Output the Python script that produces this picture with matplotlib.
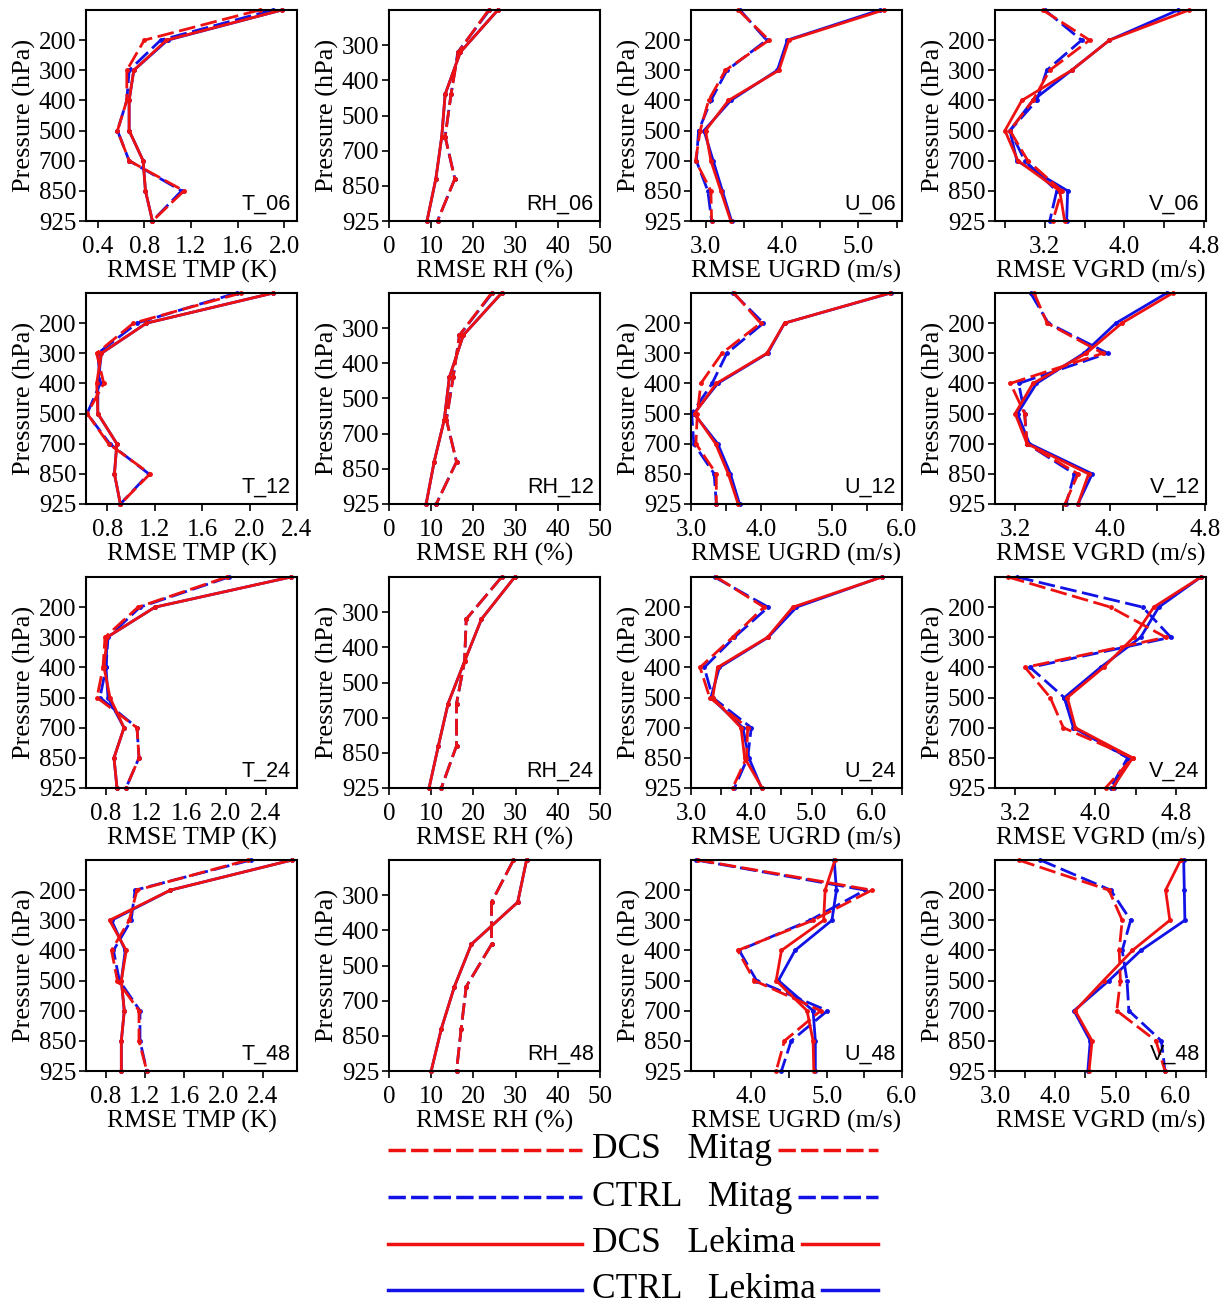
import numpy as np
import matplotlib
matplotlib.use('Agg')
import matplotlib.pyplot as plt
from matplotlib.ticker import MultipleLocator

plt.rcParams['font.family'] = ['Liberation Serif', 'DejaVu Serif']

levels = ['100', '200', '300', '400', '500', '700', '850', '925']
rh_tick_labels = ['300', '400', '500', '700', '850', '925']

# RMSE profiles, top level first: CTRL/DCS x Mitag/Lekima
T_06 = {'CTRL Mitag': [1.90, 0.94, 0.67, 0.65, 0.57, 0.67, 1.12, 0.87],
        'CTRL Lekima': [1.98, 1.00, 0.71, 0.67, 0.67, 0.79, 0.81, 0.87],
        'DCS Mitag': [1.79, 0.80, 0.65, 0.65, 0.57, 0.67, 1.14, 0.87],
        'DCS Lekima': [1.98, 0.99, 0.71, 0.67, 0.67, 0.79, 0.81, 0.87]}
T_12 = {'CTRL Mitag': [1.89, 1.05, 0.72, 0.74, 0.63, 0.82, 1.15, 0.91],
        'CTRL Lekima': [2.20, 1.13, 0.75, 0.72, 0.72, 0.88, 0.86, 0.91],
        'DCS Mitag': [1.93, 1.02, 0.71, 0.77, 0.63, 0.81, 1.16, 0.91],
        'DCS Lekima': [2.20, 1.13, 0.75, 0.71, 0.72, 0.88, 0.86, 0.91]}
T_24 = {'CTRL Mitag': [2.03, 1.14, 0.82, 0.80, 0.74, 1.11, 1.13, 1.00],
        'CTRL Lekima': [2.65, 1.29, 0.81, 0.80, 0.82, 0.98, 0.88, 0.91],
        'DCS Mitag': [2.01, 1.12, 0.79, 0.77, 0.71, 1.11, 1.13, 1.00],
        'DCS Lekima': [2.65, 1.29, 0.81, 0.78, 0.84, 0.98, 0.88, 0.91]}
T_48 = {'CTRL Mitag': [2.28, 1.10, 1.06, 0.88, 0.94, 1.15, 1.15, 1.22],
        'CTRL Lekima': [2.70, 1.46, 0.86, 1.00, 0.96, 0.99, 0.96, 0.96],
        'DCS Mitag': [2.25, 1.12, 1.04, 0.86, 0.92, 1.14, 1.14, 1.22],
        'DCS Lekima': [2.70, 1.46, 0.84, 1.01, 0.96, 0.99, 0.96, 0.96]}

RH_06 = {'CTRL Mitag': [23.8, 16.3, 14.7, 13.3, 15.6, 11.5],
         'CTRL Lekima': [25.8, 16.9, 13.3, 12.5, 11.1, 9.0],
         'DCS Mitag': [23.6, 16.4, 14.7, 13.3, 15.6, 11.5],
         'DCS Lekima': [25.8, 16.9, 13.3, 12.5, 11.1, 9.0]}
RH_12 = {'CTRL Mitag': [24.5, 16.7, 15.2, 13.6, 16.0, 11.2],
         'CTRL Lekima': [26.7, 17.6, 14.3, 13.1, 10.7, 8.8],
         'DCS Mitag': [24.3, 16.7, 15.2, 13.6, 16.0, 11.2],
         'DCS Lekima': [26.7, 17.6, 14.3, 13.1, 10.7, 8.8]}
RH_24 = {'CTRL Mitag': [26.7, 18.3, 17.9, 16.0, 16.0, 12.4],
         'CTRL Lekima': [29.8, 21.9, 17.9, 14.0, 11.7, 9.5],
         'DCS Mitag': [26.7, 18.3, 17.9, 16.0, 16.0, 12.4],
         'DCS Lekima': [29.8, 21.9, 17.9, 14.0, 11.7, 9.5]}
RH_48 = {'CTRL Mitag': [29.5, 24.3, 24.3, 18.3, 17.1, 16.0],
         'CTRL Lekima': [32.6, 30.5, 19.5, 15.5, 12.4, 10.0],
         'DCS Mitag': [29.5, 24.3, 24.3, 18.3, 17.1, 16.0],
         'DCS Lekima': [32.6, 30.5, 19.5, 15.5, 12.4, 10.0]}

U_06 = {'CTRL Mitag': [3.45, 3.80, 3.28, 3.07, 2.91, 2.88, 3.03, 3.08],
        'CTRL Lekima': [5.28, 4.07, 3.94, 3.33, 2.98, 3.10, 3.22, 3.34],
        'DCS Mitag': [3.43, 3.83, 3.26, 3.04, 2.93, 2.87, 3.07, 3.08],
        'DCS Lekima': [5.33, 4.09, 3.96, 3.30, 3.00, 3.07, 3.20, 3.33]}
U_12 = {'CTRL Mitag': [3.60, 4.03, 3.51, 3.30, 3.01, 3.04, 3.33, 3.36],
        'CTRL Lekima': [5.84, 4.33, 4.09, 3.38, 3.04, 3.38, 3.56, 3.69],
        'DCS Mitag': [3.61, 3.99, 3.44, 3.14, 3.09, 3.07, 3.36, 3.36],
        'DCS Lekima': [5.83, 4.33, 4.08, 3.36, 3.05, 3.35, 3.53, 3.67]}
U_24 = {'CTRL Mitag': [3.39, 4.28, 3.72, 3.22, 3.36, 4.00, 3.94, 3.72],
        'CTRL Lekima': [6.16, 4.75, 4.28, 3.47, 3.33, 3.86, 3.96, 4.17],
        'DCS Mitag': [3.42, 4.21, 3.69, 3.15, 3.31, 3.94, 3.92, 3.69],
        'DCS Lekima': [6.17, 4.69, 4.27, 3.44, 3.36, 3.83, 3.89, 4.18]}
U_48 = {'CTRL Mitag': [3.27, 5.51, 4.78, 3.84, 4.07, 5.01, 4.53, 4.40],
        'CTRL Lekima': [5.10, 5.13, 5.07, 4.58, 4.36, 4.82, 4.85, 4.85],
        'DCS Mitag': [3.29, 5.60, 4.82, 3.82, 4.04, 4.92, 4.44, 4.33],
        'DCS Lekima': [5.11, 4.98, 4.96, 4.40, 4.33, 4.74, 4.82, 4.83]}

V_06 = {'CTRL Mitag': [3.20, 3.57, 3.22, 3.12, 2.85, 3.00, 3.32, 3.25],
        'CTRL Lekima': [4.54, 3.85, 3.47, 3.08, 2.85, 2.92, 3.43, 3.42],
        'DCS Mitag': [3.18, 3.65, 3.25, 3.08, 2.85, 3.03, 3.37, 3.28],
        'DCS Lekima': [4.65, 3.85, 3.47, 2.97, 2.80, 2.93, 3.35, 3.40]}
V_12 = {'CTRL Mitag': [3.33, 3.48, 3.98, 3.23, 3.28, 3.30, 3.70, 3.63],
        'CTRL Lekima': [4.48, 4.05, 3.78, 3.38, 3.22, 3.32, 3.85, 3.73],
        'DCS Mitag': [3.36, 3.47, 3.94, 3.16, 3.28, 3.30, 3.73, 3.62],
        'DCS Lekima': [4.53, 4.10, 3.80, 3.35, 3.20, 3.30, 3.82, 3.73]}
V_24 = {'CTRL Mitag': [3.22, 4.47, 4.75, 3.35, 3.69, 3.79, 4.32, 4.15],
        'CTRL Lekima': [5.05, 4.63, 4.45, 4.05, 3.69, 3.78, 4.33, 4.18],
        'DCS Mitag': [3.13, 4.15, 4.70, 3.30, 3.55, 3.68, 4.37, 4.10],
        'DCS Lekima': [5.05, 4.58, 4.38, 4.08, 3.72, 3.80, 4.37, 4.17]}
V_48 = {'CTRL Mitag': [3.75, 4.92, 5.25, 5.11, 5.19, 5.22, 5.76, 5.82],
        'CTRL Lekima': [6.13, 6.14, 6.15, 5.42, 4.89, 4.31, 4.58, 4.54],
        'DCS Mitag': [3.39, 4.89, 5.11, 5.06, 5.08, 5.02, 5.67, 5.82],
        'DCS Lekima': [6.08, 5.83, 5.90, 5.28, 4.80, 4.33, 4.61, 4.56]}

panels = [
    [('T_06', T_06), ('RH_06', RH_06), ('U_06', U_06), ('V_06', V_06)],
    [('T_12', T_12), ('RH_12', RH_12), ('U_12', U_12), ('V_12', V_12)],
    [('T_24', T_24), ('RH_24', RH_24), ('U_24', U_24), ('V_24', V_24)],
    [('T_48', T_48), ('RH_48', RH_48), ('U_48', U_48), ('V_48', V_48)],
]

xlabels = {'T': 'RMSE TMP (K)', 'RH': 'RMSE RH (%)',
           'U': 'RMSE UGRD (m/s)', 'V': 'RMSE VGRD (m/s)'}

# xlim, major ticks, minor step
xaxis = {
    'T_06': ((0.3, 2.11), [0.4, 0.8, 1.2, 1.6, 2.0], None),
    'T_12': ((0.62, 2.4), [0.8, 1.2, 1.6, 2.0, 2.4], None),
    'T_24': ((0.6, 2.71), [0.8, 1.2, 1.6, 2.0, 2.4], None),
    'T_48': ((0.6, 2.75), [0.8, 1.2, 1.6, 2.0, 2.4], None),
    'U_06': ((2.81, 5.57), [3.0, 4.0, 5.0], 0.5),
    'U_12': ((3.0, 6.0), [3.0, 4.0, 5.0, 6.0], 0.5),
    'U_24': ((3.0, 6.5), [3.0, 4.0, 5.0, 6.0], 0.5),
    'U_48': ((3.2, 6.0), [4.0, 5.0, 6.0], 0.5),
    'V_06': ((2.7, 4.82), [3.2, 4.0, 4.8], 0.4),
    'V_12': ((3.03, 4.81), [3.2, 4.0, 4.8], 0.4),
    'V_24': ((3.0, 5.1), [3.2, 4.0, 4.8], 0.4),
    'V_48': ((3.0, 6.5), [3.0, 4.0, 5.0, 6.0], 0.5),
}

styles = {'CTRL Mitag': ('#1212e6', (0, (6, 2))),
          'CTRL Lekima': ('#1212e6', '-'),
          'DCS Mitag': ('#ee1111', (0, (6, 2))),
          'DCS Lekima': ('#ee1111', '-')}

W, H = 1232, 1306
fig = plt.figure(figsize=(W / 100, H / 100), dpi=100)

col_left = [86, 389, 691, 995]
row_top = [10, 293, 577, 860]
aw, ah = 211, 211

for r, row in enumerate(panels):
    for c, (name, data) in enumerate(row):
        ax = fig.add_axes([col_left[c] / W, 1 - (row_top[r] + ah) / H, aw / W, ah / H])
        var = name.split('_')[0]
        if var == 'RH':
            n = len(data['DCS Lekima'])
            y = np.linspace(0, len(rh_tick_labels), n)
            ax.set_ylim(len(rh_tick_labels), 0)
            ax.set_yticks(np.arange(1, len(rh_tick_labels) + 1))
            ax.set_yticklabels(rh_tick_labels)
            ax.set_xlim(0, 50)
            ax.set_xticks([0, 10, 20, 30, 40, 50])
        else:
            y = np.arange(len(levels))
            ax.set_ylim(len(levels) - 1, 0)
            ax.set_yticks(y[1:])
            ax.set_yticklabels(levels[1:])
            lim, major, minor = xaxis[name]
            ax.set_xlim(*lim)
            ax.set_xticks(major)
            ax.set_xticklabels(['%.1f' % v for v in major])
            if minor:
                ax.xaxis.set_minor_locator(MultipleLocator(minor))
        for key in ['CTRL Mitag', 'CTRL Lekima', 'DCS Mitag', 'DCS Lekima']:
            color, ls = styles[key]
            ax.plot(data[key], y, color=color, linestyle=ls, linewidth=2.0,
                    marker='o', markersize=2.5, clip_on=False)
        ax.tick_params(axis='both', which='both', direction='out', length=5,
                       width=1.2, labelsize=18)
        ax.tick_params(axis='x', pad=6)
        ax.tick_params(axis='y', pad=2)
        for s in ax.spines.values():
            s.set_linewidth(1.5)
        ax.set_xlabel(xlabels[var], fontsize=18.5, labelpad=1.5)
        ax.set_ylabel('Pressure (hPa)', fontsize=19, labelpad=2)
        ax.text(0.97, 0.03, name, transform=ax.transAxes, ha='right', va='bottom',
                fontsize=15.5, family=['Liberation Sans', 'DejaVu Sans'])

# legend drawn by hand: line, label, line
leg = fig.add_axes([0, 0, 1, 1], facecolor='none')
leg.set_xlim(0, W)
leg.set_ylim(H, 0)
leg.axis('off')
legend_rows = [('DCS', 'Mitag'), ('CTRL', 'Mitag'), ('DCS', 'Lekima'), ('CTRL', 'Lekima')]
row_y = [1150, 1197, 1244, 1290]
fig.canvas.draw()
renderer = fig.canvas.get_renderer()
for (exp, storm), yy in zip(legend_rows, row_y):
    color, ls = styles[exp + ' ' + storm]
    if ls != '-':
        ls = (0, (5, 1.5))
    leg.plot([388, 582], [yy, yy], color=color, linestyle=ls, linewidth=2.5)
    t = leg.text(592, yy, exp + '   ' + storm, ha='left', va='center', fontsize=25.5)
    bb = t.get_window_extent(renderer)
    x_end = bb.x1 + 6
    leg.plot([x_end, 878], [yy, yy], color=color, linestyle=ls, linewidth=2.5)

fig.savefig('out.png', dpi=100)
